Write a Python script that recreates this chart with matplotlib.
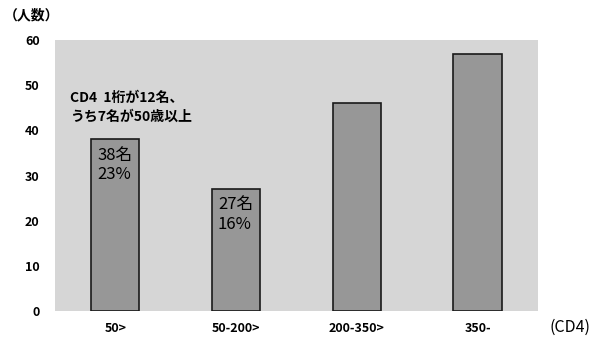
import matplotlib
matplotlib.use("Agg")
import matplotlib.pyplot as plt

plt.rcParams['font.family'] = ['Noto Sans CJK JP', 'DejaVu Sans']

categories = ["50>", "50-200>", "200-350>", "350-"]
counts = [38, 27, 46, 57]
bar_labels = ["38名\n23%", "27名\n16%", "", ""]
yticks = [0, 10, 20, 30, 40, 50, 60]
note = "CD4  1桁が12名、\nうち7名が50歳以上"

fig = plt.figure(figsize=(5.93, 3.42), dpi=100)
ax = fig.add_axes([0.0927, 0.0906, 0.8145, 0.7924])
ax.set_facecolor('#d6d6d6')
x = list(range(len(categories)))
ax.bar(x, counts, width=0.4, color='#979797', edgecolor='#1a1a1a', linewidth=1.2, zorder=2)
ax.set_xlim(-0.5, 3.5)
ax.set_ylim(0, 60)
ax.set_yticks(yticks)
ax.set_xticks(x)
ax.set_xticklabels(categories, fontsize=9, fontweight='bold')
ax.set_yticklabels([str(v) for v in yticks], fontsize=9, fontweight='bold')
ax.tick_params(axis='both', length=0)
ax.tick_params(axis='x', pad=8)
ax.tick_params(axis='y', pad=11)
for s in ax.spines.values():
    s.set_visible(False)

for i, (c, lab) in enumerate(zip(counts, bar_labels)):
    if lab:
        ax.text(i - 0.15, c - 1.6, lab, ha='left', va='top', fontsize=12, linespacing=1.2, zorder=3)

ax.text(-0.375, 48.8, note, ha='left', va='top', fontsize=10, fontweight='bold', linespacing=1.45, zorder=3)

fig.text(0.006, 0.956, "（人数）", fontsize=10, fontweight='bold', ha='left', va='center')
fig.text(0.995, 0.044, "(CD4)", fontsize=11.5, ha='right', va='center')

fig.savefig("out.png", dpi=100, facecolor='white')
